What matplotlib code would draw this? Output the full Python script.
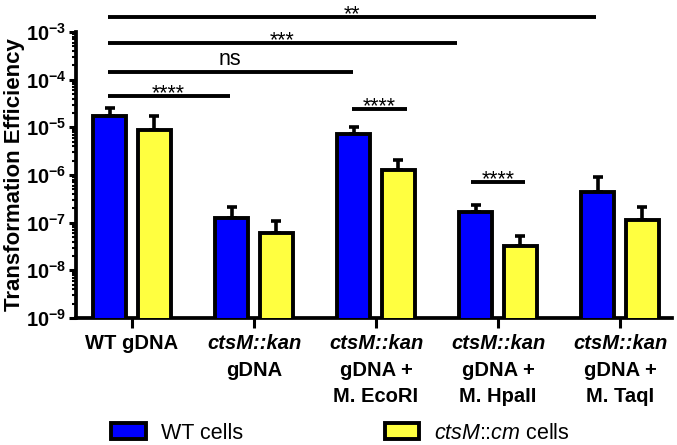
import matplotlib
matplotlib.use("Agg")
import matplotlib.pyplot as plt
from matplotlib.ticker import LogLocator, NullFormatter
import numpy as np

plt.rcParams['font.family'] = ['Liberation Sans', 'DejaVu Sans']
plt.rcParams['mathtext.fontset'] = 'custom'
plt.rcParams['mathtext.rm'] = 'Liberation Sans'
plt.rcParams['mathtext.it'] = 'Liberation Sans:italic'
plt.rcParams['mathtext.bf'] = 'Liberation Sans:bold'

# data
groups_top = ['WT gDNA', 'ctsM::kan', 'ctsM::kan', 'ctsM::kan', 'ctsM::kan']
groups_rest = [[], ['gDNA'], ['gDNA +', 'M. EcoRI'], ['gDNA +', 'M. HpaII'], ['gDNA +', 'M. TaqI']]
wt_mean = [1.7e-5, 1.26e-7, 7.4e-6, 1.7e-7, 4.3e-7]
wt_top = [2.6e-5, 2.1e-7, 1.02e-5, 2.4e-7, 9.3e-7]
cm_mean = [8.7e-6, 6.2e-8, 1.3e-6, 3.3e-8, 1.15e-7]
cm_top = [1.7e-5, 1.1e-7, 2.1e-6, 5.3e-8, 2.1e-7]

# significance brackets: x start, x end, height, label
sig_x0 = [-0.2, -0.2, -0.2, -0.2, 1.8, 2.78]
sig_x1 = [0.8, 1.81, 2.66, 3.8, 2.25, 3.22]
sig_y = [4.54e-5, 1.45e-4, 5.88e-4, 2.07e-3, 2.43e-5, 7.13e-7]
sig_lab = ['****', 'ns', '***', '**', '****', '****']

blue = '#0000ff'
yellow = '#ffff40'

fig = plt.figure(figsize=(6.77, 4.45), dpi=100)
ax = fig.add_axes([76/677, 127/445, 596/677, 286/445])

x = np.arange(5)
off = 0.184
w = 0.27

ax.bar(x - off, wt_mean, w, color=blue, edgecolor='black', linewidth=2.8, zorder=3)
ax.bar(x + off, cm_mean, w, color=yellow, edgecolor='black', linewidth=2.8, zorder=3)

wt_err = np.array(wt_top) - np.array(wt_mean)
cm_err = np.array(cm_top) - np.array(cm_mean)
ax.errorbar(x - off, wt_mean, yerr=[np.zeros(5), wt_err], fmt='none', ecolor='black',
            elinewidth=2.6, capsize=3.8, capthick=2.6, zorder=2)
ax.errorbar(x + off, cm_mean, yerr=[np.zeros(5), cm_err], fmt='none', ecolor='black',
            elinewidth=2.6, capsize=3.8, capthick=2.6, zorder=2)

ax.set_yscale('log')
ax.set_ylim(1e-9, 1e-3)
ax.set_xlim(-0.459, 4.426)

exps = [-9, -8, -7, -6, -5, -4, -3]
ax.set_yticks([10.0**e for e in exps])
ax.set_yticklabels([r'$\mathbf{10^{%d}}$' % e for e in exps], fontsize=14.5)
ax.yaxis.set_minor_locator(LogLocator(base=10, subs=np.arange(2, 10)))
ax.yaxis.set_minor_formatter(NullFormatter())
ax.tick_params(axis='y', which='major', length=5, width=2.2, pad=2)
ax.tick_params(axis='y', which='minor', length=3, width=1.5)

ax.set_xticks(x)
ax.set_xticklabels([''] * 5)
ax.tick_params(axis='x', which='major', length=7, width=2.2)
ax.tick_params(axis='x', which='minor', length=0)

for s in ['top', 'right']:
    ax.spines[s].set_visible(False)
for s in ['left', 'bottom']:
    ax.spines[s].set_linewidth(2.7)

ax.set_ylabel('Transformation Efficiency', fontsize=16, fontweight='bold')
ax.yaxis.set_label_coords(-0.085, 0.5)

# group labels under the axis
for i in range(5):
    style = 'normal' if i == 0 else 'italic'
    ax.annotate(groups_top[i], xy=(i, 0), xycoords=('data', 'axes fraction'),
                xytext=(0, -22.5), textcoords='offset points', ha='center', va='baseline',
                fontsize=14.5, fontweight='bold', fontstyle=style, annotation_clip=False)
    for j, line in enumerate(groups_rest[i]):
        ax.annotate(line, xy=(i, 0), xycoords=('data', 'axes fraction'),
                    xytext=(0, -22.5 - 19 * (j + 1)), textcoords='offset points',
                    ha='center', va='baseline', fontsize=14.5, fontweight='bold',
                    annotation_clip=False)

# significance bars
for x0, x1, yv, lab in zip(sig_x0, sig_x1, sig_y, sig_lab):
    ax.plot([x0, x1], [yv, yv], color='black', lw=2.8, clip_on=False, solid_capstyle='butt')
    dy = 5 if lab == 'ns' else -2
    ax.annotate(lab, xy=((x0 + x1) / 2, yv), xytext=(0, dy), textcoords='offset points',
                ha='center', va='baseline', fontsize=15.5, annotation_clip=False)

# legend
h1 = plt.Rectangle((0, 0), 1, 1, facecolor=blue, edgecolor='black', linewidth=2.8)
h2 = plt.Rectangle((0, 0), 1, 1, facecolor=yellow, edgecolor='black', linewidth=2.8)
fig.legend([h1, h2], ['WT cells', r'$\mathit{ctsM\!:\!\!\!:\!cm}$ cells'], ncol=2,
           loc='lower left', bbox_to_anchor=(108/677, -0.004), frameon=False,
           fontsize=15.5, handlelength=1.6, handleheight=0.8, handletextpad=0.7,
           columnspacing=6.6, borderpad=0.15, borderaxespad=0)

fig.savefig('out.png', dpi=100)
